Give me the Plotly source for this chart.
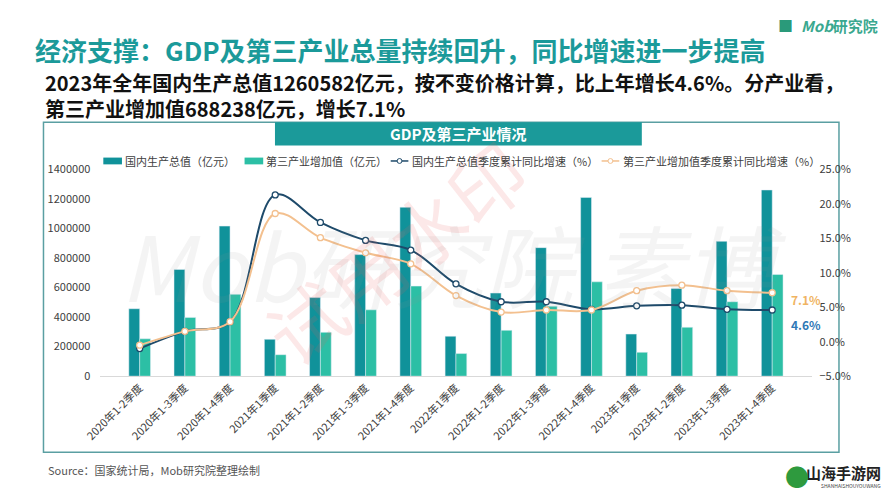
import plotly.graph_objects as go

categories = ["2020年1-2季度", "2020年1-3季度", "2020年1-4季度", "2021年1季度", "2021年1-2季度",
              "2021年1-3季度", "2021年1-4季度", "2022年1季度", "2022年1-2季度", "2022年1-3季度",
              "2022年1-4季度", "2023年1季度", "2023年1-2季度", "2023年1-3季度", "2023年1-4季度"]
gdp = [456614, 722786, 1015986, 249310, 532167, 823131, 1143670, 270178, 562642, 870269,
       1210207, 284997, 593034, 913027, 1260582]
tertiary = [253000, 398000, 553977, 145355, 296611, 449180, 609680, 153037, 310144, 473734,
            638698, 161475, 330857, 503993, 688238]
gdp_growth = [-1.0, 1.5, 2.9, 21.3, 17.3, 14.7, 13.3, 8.4, 5.8, 5.8, 4.7, 5.2, 5.3, 4.7, 4.6]
ter_growth = [-0.5, 1.5, 2.9, 18.6, 15.1, 12.9, 11.3, 6.7, 4.3, 4.6, 4.6, 7.4, 8.2, 7.4, 7.1]
series_names = ["国内生产总值（亿元）", "第三产业增加值（亿元）",
                "国内生产总值季度累计同比增速（%）", "第三产业增加值季度累计同比增速（%）"]

W, H = 889, 500
def px(x): return x / W
def py(y): return 1 - y / H

C_GDP = "#10929a"
C_TER = "#2cbfa5"
C_LGDP = "#1e4a6a"
C_LTER = "#f3c08f"
TEAL = "#1b9a9a"
FONT = "Noto Sans CJK SC"

fig = go.Figure()
fig.add_trace(go.Bar(x=categories, y=gdp, name=series_names[0], marker_color=C_GDP))
fig.add_trace(go.Bar(x=categories, y=tertiary, name=series_names[1], marker_color=C_TER))
fig.add_trace(go.Scatter(x=categories, y=[v / 100 for v in gdp_growth], name=series_names[2],
                         yaxis="y2", mode="lines+markers", line=dict(color=C_LGDP, width=2, shape="spline", smoothing=1),
                         marker=dict(symbol="circle", size=6, color="white", line=dict(color=C_LGDP, width=1.3))))
fig.add_trace(go.Scatter(x=categories, y=[v / 100 for v in ter_growth], name=series_names[3],
                         yaxis="y2", mode="lines+markers", line=dict(color=C_LTER, width=2, shape="spline", smoothing=1),
                         marker=dict(symbol="circle", size=6, color="white", line=dict(color=C_LTER, width=1.3))))

P = dict(xref="paper", yref="paper")

shapes = [
    dict(type="rect", **P, x0=px(27), x1=px(838), y0=py(458), y1=py(117),
         line=dict(color="#5a9fa2", width=1.5), fillcolor="rgba(0,0,0,0)", layer="below"),
    dict(type="rect", **P, x0=px(263), x1=px(637), y0=py(141), y1=py(117),
         line=dict(width=0), fillcolor=TEAL, layer="below"),
]

annotations = [
    # watermarks
    dict(text="<i>Mob研究院 素博</i>", x=px(445), y=py(262), xanchor="center", yanchor="middle",
         showarrow=False, font=dict(size=90, color="rgba(150,150,150,0.10)", family=FONT)),
    dict(text="试用水印", x=px(385), y=py(250), xanchor="center", yanchor="middle", textangle=-38,
         showarrow=False, font=dict(size=76, color="rgba(235,90,90,0.14)", family=FONT)),
    dict(text="<b>经济支撑：GDP及第三产业总量持续回升，同比增速进一步提高</b>", x=px(16), y=py(42),
         xanchor="left", yanchor="middle", showarrow=False, font=dict(size=26, color=TEAL, family=FONT)),
    dict(text="<b>2023年全年国内生产总值1260582亿元，按不变价格计算，比上年增长4.6%。分产业看，<br>"
              "第三产业增加值688238亿元，增长7.1%</b>", x=px(27), y=py(89.5), align="left",
         xanchor="left", yanchor="middle", showarrow=False, font=dict(size=20, color="#111111", family=FONT)),
    dict(text="<b>GDP及第三产业情况</b>", x=px(450), y=py(129), xanchor="center", yanchor="middle",
         showarrow=False, font=dict(size=15, color="white", family=FONT)),
    dict(text="Source：国家统计局，Mob研究院整理绘制", x=px(30), y=py(476), xanchor="left", yanchor="middle",
         showarrow=False, font=dict(size=11, color="#555555", family=FONT)),
    dict(text="<b><i>Mob</i></b><b>研究院</b>", x=px(880), y=py(17), xanchor="right", yanchor="middle",
         showarrow=False, font=dict(size=15, color="#3aa88f", family=FONT)),
    dict(text="■", x=px(793), y=py(17), xanchor="right", yanchor="middle",
         showarrow=False, font=dict(size=15, color="#2a9a7a", family=FONT)),
    dict(text="<b>山海手游网</b>", x=px(883), y=py(479), xanchor="right", yanchor="middle",
         showarrow=False, font=dict(size=15, color="#222222", family=FONT)),
    dict(text="SHANHAISHOUYOUWANG", x=px(883), y=py(492), xanchor="right", yanchor="middle",
         showarrow=False, font=dict(size=5, color="#444444", family=FONT)),
    dict(text="●", x=px(795), y=py(482), xanchor="center", yanchor="middle",
         showarrow=False, font=dict(size=24, color="#2e9a3e", family=FONT)),
    dict(text="<b>7.1%</b>", x=px(804), y=py(300), xanchor="center", yanchor="middle",
         showarrow=False, font=dict(size=12, color="#f0b462", family=FONT)),
    dict(text="<b>4.6%</b>", x=px(804), y=py(326), xanchor="center", yanchor="middle",
         showarrow=False, font=dict(size=12, color="#2f78b6", family=FONT)),
]
for a in annotations:
    a.update(P)

# manual legend
leg_y = 157
leg_items = [(88, "bar", C_GDP), (232, "bar", C_TER), (381, "line", C_LGDP), (596, "line", C_LTER)]
for (lx, kind, col), name in zip(leg_items, series_names):
    if kind == "bar":
        shapes.append(dict(type="rect", **P, x0=px(lx), x1=px(lx + 19), y0=py(leg_y + 3.5), y1=py(leg_y - 3.5),
                           line=dict(width=0), fillcolor=col))
    else:
        shapes.append(dict(type="line", **P, x0=px(lx), x1=px(lx + 18), y0=py(leg_y), y1=py(leg_y),
                           line=dict(color=col, width=1.5)))
        shapes.append(dict(type="circle", **P, x0=px(lx + 6.5), x1=px(lx + 11.5), y0=py(leg_y + 2.5), y1=py(leg_y - 2.5),
                           line=dict(color=col, width=1), fillcolor="white"))
    annotations.append(dict(text=name, **P, x=px(lx + 20), y=py(leg_y), xanchor="left", yanchor="middle",
                            showarrow=False, font=dict(size=11, color="#404040", family=FONT)))

fig.update_layout(
    width=W, height=H, margin=dict(l=0, r=0, t=0, b=0),
    paper_bgcolor="white", plot_bgcolor="rgba(0,0,0,0)",
    font=dict(family=FONT, size=11, color="#404040"),
    barmode="group", bargap=0.52, bargroupgap=0,
    showlegend=False,
    xaxis=dict(domain=[px(85), px(810)], tickangle=-45, showgrid=False, showline=True,
               linecolor="#d9d9d9", linewidth=1, ticks="", tickfont=dict(size=11, color="#404040")),
    yaxis=dict(domain=[py(379.3), py(165.7)], range=[0, 1400000], dtick=200000, tickformat="d",
               showgrid=False, zeroline=False, ticks="", ticklabelstandoff=9,
               tickfont=dict(size=11, color="#404040")),
    yaxis2=dict(overlaying="y", side="right", anchor="x", range=[-0.05, 0.25], dtick=0.05, tickformat=".1%",
                showgrid=False, zeroline=False, ticks="", ticklabelstandoff=7,
                tickfont=dict(size=11, color="#404040")),
    shapes=shapes, annotations=annotations,
)

fig.write_html("out.html")
